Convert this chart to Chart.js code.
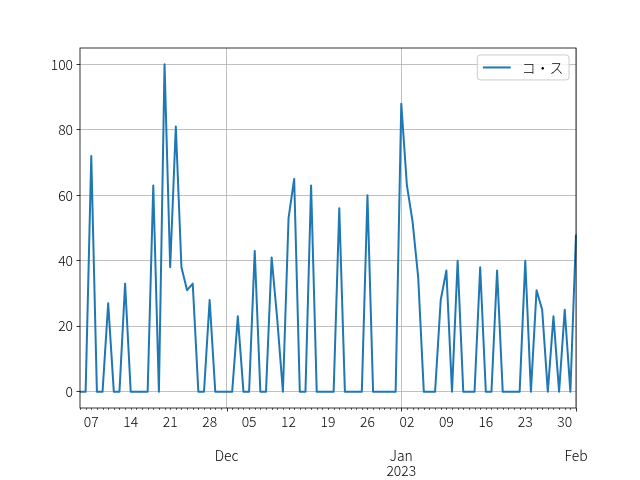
<!DOCTYPE html>
<html><head><meta charset="utf-8">
<script src="https://cdn.jsdelivr.net/npm/chart.js@4"></script>
<style>html,body{margin:0;padding:0;background:#fff}#wrap{width:640px;height:480px}</style>
</head><body><div id="wrap"><canvas id="c" width="640" height="480"></canvas></div>
<script>
const startDate = '2022-11-05';
const seriesLabel = 'コ・ス';
const values = [
  0, 0, 72, 0, 0, 27, 0, 0, 33, 0,
  0, 0, 0, 63, 0, 100, 38, 81, 38, 31,
  33, 0, 0, 28, 0, 0, 0, 0, 23, 0,
  0, 43, 0, 0, 41, 22, 0, 53, 65, 0,
  0, 63, 0, 0, 0, 0, 56, 0, 0, 0,
  0, 60, 0, 0, 0, 0, 0, 88, 63, 52,
  35, 0, 0, 0, 28, 37, 0, 40, 0, 0,
  0, 38, 0, 0, 37, 0, 0, 0, 0, 40,
  0, 31, 25, 0, 23, 0, 25, 0, 48
];
const dayTickDates = ['2022-11-07','2022-11-14','2022-11-21','2022-11-28','2022-12-05','2022-12-12','2022-12-19','2022-12-26','2023-01-02','2023-01-09','2023-01-16','2023-01-23','2023-01-30'];
const dayTickLabels = ['07','14','21','28','05','12','19','26','02','09','16','23','30'];
const monthTickDates = ['2022-12-01','2023-01-01','2023-02-01'];
const monthTickLabels = ['Dec', ['Jan','2023'], 'Feb'];
const yTicks = [0, 20, 40, 60, 80, 100];

const start = new Date(startDate + 'T00:00:00Z').getTime();
const dates = values.map((_, i) => new Date(start + i * 86400000).toISOString().slice(0, 10));

const FAMILY = "'Noto Sans CJK JP', 'DejaVu Sans', sans-serif";
const FS = 13.9;
const FW = 300;

const spines = {
  id: 'spines',
  afterDraw(chart) {
    const ctx = chart.ctx, ca = chart.chartArea, sx = chart.scales.x;
    ctx.save();
    ctx.strokeStyle = '#000';
    dates.forEach((d, i) => {
      const major = monthTickDates.includes(d);
      const px = Math.round(sx.getPixelForTick(i)) + 0.5;
      ctx.lineWidth = major ? 0.8 : 0.6;
      ctx.beginPath();
      ctx.moveTo(px, ca.bottom);
      ctx.lineTo(px, ca.bottom + (major ? 3.5 : 2));
      ctx.stroke();
    });
    ctx.lineWidth = 0.8;
    ctx.strokeRect(ca.left, ca.top, ca.right - ca.left, ca.bottom - ca.top);
    ctx.restore();
  }
};

const legendBox = {
  id: 'legendBox',
  afterDraw(chart) {
    const ctx = chart.ctx, ca = chart.chartArea;
    const ds = chart.data.datasets[0];
    ctx.save();
    ctx.font = FW + ' ' + FS + 'px ' + FAMILY;
    const tw = ctx.measureText(ds.label).width;
    const pad = 0.4 * FS, handle = 2 * FS, htp = 0.8 * FS, axpad = 0.5 * FS;
    const w = pad + handle + htp + tw + pad, h = 25;
    const right = ca.right - axpad, top = ca.top + axpad, left = right - w;
    ctx.beginPath();
    if (ctx.roundRect) ctx.roundRect(left, top, w, h, 3); else ctx.rect(left, top, w, h);
    ctx.fillStyle = 'rgba(255,255,255,0.8)';
    ctx.fill();
    ctx.strokeStyle = '#cccccc';
    ctx.lineWidth = 1;
    ctx.stroke();
    const cy = top + h / 2;
    ctx.beginPath();
    ctx.moveTo(left + pad, cy);
    ctx.lineTo(left + pad + handle, cy);
    ctx.strokeStyle = ds.borderColor;
    ctx.lineWidth = ds.borderWidth;
    ctx.stroke();
    ctx.fillStyle = '#000';
    ctx.textBaseline = 'middle';
    ctx.textAlign = 'left';
    ctx.fillText(ds.label, left + pad + handle + htp, cy);
    ctx.restore();
  }
};

new Chart(document.getElementById('c'), {
  type: 'line',
  data: {
    labels: dates,
    datasets: [{
      label: seriesLabel,
      data: values,
      borderColor: '#1f77b4',
      backgroundColor: '#1f77b4',
      borderWidth: 2,
      pointRadius: 0,
      tension: 0,
      fill: false,
      borderJoinStyle: 'round'
    }]
  },
  options: {
    responsive: false,
    animation: false,
    devicePixelRatio: 1,
    layout: { padding: { left: 0, right: 64, top: 48, bottom: 0 } },
    plugins: { legend: { display: false }, tooltip: { enabled: false } },
    scales: {
      x: {
        type: 'category', position: 'bottom', offset: false,
        grid: { display: false, drawOnChartArea: false, drawTicks: false },
        border: { display: false },
        ticks: {
          autoSkip: false, maxRotation: 0, minRotation: 0, padding: 5, color: '#000',
          font: { family: FAMILY, size: FS, weight: FW, lineHeight: 1.2 },
          callback: (v, i) => { const k = dayTickDates.indexOf(dates[i]); return k >= 0 ? dayTickLabels[k] : ''; }
        },
        afterFit: s => { s.height = 30; }
      },
      x2: {
        type: 'category', position: 'bottom', offset: false,
        grid: {
          display: true, drawOnChartArea: true, drawTicks: false, lineWidth: 0.8,
          color: c => monthTickDates.includes(dates[c.index]) ? '#b0b0b0' : 'rgba(0,0,0,0)'
        },
        border: { display: false },
        ticks: {
          autoSkip: false, maxRotation: 0, minRotation: 0, padding: 10.5, color: '#000',
          font: { family: FAMILY, size: FS, weight: FW, lineHeight: '15px' },
          callback: (v, i) => { const k = monthTickDates.indexOf(dates[i]); return k >= 0 ? monthTickLabels[k] : ''; }
        },
        afterFit: s => { s.height = 42; }
      },
      y: {
        type: 'linear', position: 'left', min: -5, max: 105,
        afterBuildTicks: s => { s.ticks = yTicks.map(v => ({ value: v })); },
        grid: { color: '#b0b0b0', lineWidth: 0.8, drawTicks: true, tickLength: 3.5, tickColor: '#000', tickWidth: 0.8 },
        border: { display: false },
        ticks: { padding: 3.5, color: '#000', font: { family: FAMILY, size: FS, weight: FW } },
        afterFit: s => { s.width = 80; }
      }
    }
  },
  plugins: [spines, legendBox]
});
</script>
</body></html>
